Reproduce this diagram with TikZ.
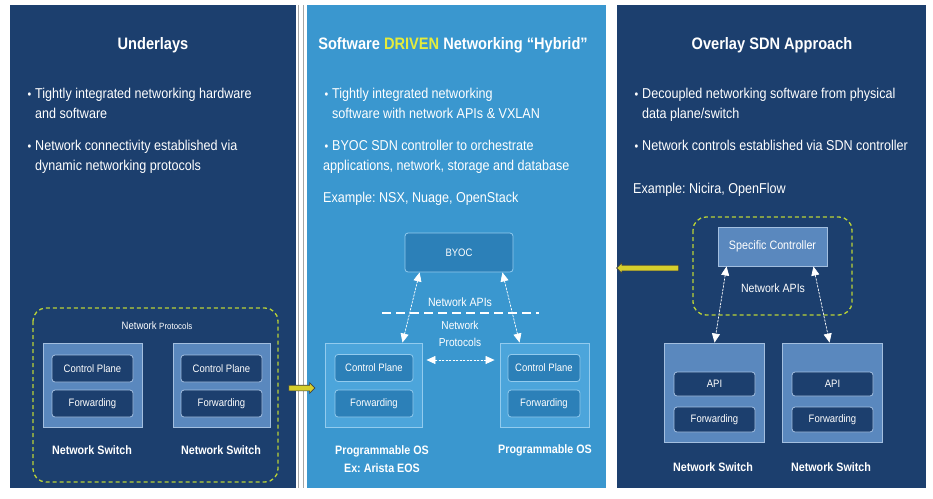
\documentclass[tikz,border=0pt]{standalone}
\usepackage{fontspec}
\setmainfont{Liberation Sans}[FakeStretch=0.88]
\usepackage{xcolor}
\usetikzlibrary{positioning, arrows.meta, shapes.arrows}
\frenchspacing

\definecolor{navy}{HTML}{1C3F6E}
\definecolor{sky}{HTML}{3A97CF}
\definecolor{lime}{HTML}{B9D237}
\definecolor{hostblue}{HTML}{5A88BE}
\definecolor{edgeblue}{HTML}{A3BFE0}
\definecolor{oshost}{HTML}{4CA5DB}
\definecolor{ospart}{HTML}{2C80B8}
\definecolor{osedge}{HTML}{92CBEE}
\definecolor{driven}{HTML}{E6EC3A}
\definecolor{arrowyellow}{HTML}{D6CF2C}

\newcommand{\itembul}{\llap{{\fontsize{12}{12}\selectfont\textbullet}\hspace{4pt}}}

\begin{document}
\begin{tikzpicture}[x=1pt, y=-1pt,
  title/.style={font=\fontsize{16.6}{19}\selectfont\bfseries, text=white},
  body/.style={font=\fontsize{14.3}{20}\selectfont, text=white, align=left, anchor=north west, inner sep=0pt},
  hostbox/.style={draw=edgeblue, fill=hostblue, line width=0.9pt, minimum width=#1, minimum height=84pt},
  partbox/.style={draw=edgeblue, fill=navy, rounded corners=3pt, line width=0.8pt, minimum width=#1, minimum height=27pt,
    font=\fontsize{10.8}{12}\selectfont, text=white},
  oshostbox/.style={hostbox=#1, draw=osedge, fill=oshost},
  ospartbox/.style={partbox=#1, draw=osedge, fill=ospart},
  swlabel/.style={font=\fontsize{12.2}{18}\selectfont\bfseries, text=white, align=center},
  note/.style={font=\fontsize{12}{17}\selectfont, text=white, align=center},
  group/.style={draw=lime, line width=1.3pt, dash pattern=on 4pt off 3pt, rounded corners=13pt},
  apilink/.style={{Triangle[width=8pt,length=9pt]}-{Triangle[width=8pt,length=9pt]}, draw=white, fill=white, line width=0.7pt, dash pattern=on 2pt off 1.5pt},
  movearrow/.style={single arrow, fill=arrowyellow, draw=black!75, line width=0.6pt, inner xsep=0pt, inner ysep=2.5pt,
    single arrow head extend=2.5pt, single arrow head indent=0pt}
]
\useasboundingbox (0,0) rectangle (933,498);
\fill[white] (0,0) rectangle (933,498);

% Panels
\fill[navy] (10,5) rectangle (296,488);
\draw[gray!70, line width=0.9pt] (298.5,5) -- (298.5,488);
\draw[gray!70, line width=0.9pt] (303.5,5) -- (303.5,488);
\fill[sky] (307,5) rectangle (606,488);
\fill[navy] (617,5) rectangle (926,488);

% Underlays
\node[title] (tUnder) at (153,45) {Underlays};
\node[body] (uA) at (35,88) {\itembul Tightly integrated networking hardware\\and software};
\node[body] (uB) at (35,140) {\itembul Network connectivity established via\\dynamic networking protocols};

\draw[group] (33,308) rectangle (278,482);
\node[note] (uProt) at (157,326) {\fontsize{10.8}{12}\selectfont Network {\fontsize{9}{10}\selectfont Protocols}};

\node[hostbox=99pt] (swA) at (92.5,385) {};
\node[partbox=81pt] (cpA) at (92.5,368.5) {Control Plane};
\node[partbox=81pt] (fwA) at (92.5,403.5) {Forwarding};
\node[swlabel] (lA) at (92,450) {Network Switch};

\node[hostbox=97pt] (swB) at (221.5,385) {};
\node[partbox=81pt] (cpB) at (221.5,368.5) {Control Plane};
\node[partbox=81pt] (fwB) at (221.5,403.5) {Forwarding};
\node[swlabel] (lB) at (221,450) {Network Switch};

\node[movearrow, minimum height=26pt] (goMid) at (300.5,388) {};

% Software driven
\node[title] (tSoft) at (453,45) {Software \textcolor{driven}{DRIVEN} Networking “Hybrid”};
\node[body] (sA) at (332,88) {\itembul Tightly integrated networking\\software with network APIs \& VXLAN};
\node[body] (sB) at (323,140) {\hspace*{9pt}\itembul BYOC SDN controller to orchestrate\\applications, network, storage and database};
\node[body] (sEx) at (323,192) {Example: NSX, Nuage, OpenStack};

\node[ospartbox=108pt, minimum height=39pt] (byoc) at (459,252.5) {BYOC};
\node[note] (sApi) at (460,302) {Network APIs};
\draw[white, line width=2pt, dash pattern=on 9pt off 5pt] (382,313) -- (539,313);
\node[note, font=\fontsize{11.5}{17}\selectfont] (sProt) at (460,334) {Network\\Protocols};

\node[oshostbox=97pt] (osL) at (373.5,385) {};
\node[ospartbox=78pt] (cpL) at (374,368) {Control Plane};
\node[ospartbox=78pt] (fwL) at (374,403.5) {Forwarding};
\node[swlabel] (lL) at (382,459) {Programmable OS\\Ex: Arista EOS};

\node[oshostbox=89pt] (osR) at (544.5,385) {};
\node[ospartbox=72pt] (cpR) at (544,368) {Control Plane};
\node[ospartbox=72pt] (fwR) at (544,403.5) {Forwarding};
\node[swlabel] (lR) at (545,450) {Programmable OS};

\draw[apilink] ([xshift=15pt]byoc.south west) -- ([xshift=-20pt]osL.north east);
\draw[apilink] ([xshift=-11pt]byoc.south east) -- ([xshift=20pt]osR.north west);
\draw[apilink] ([xshift=4pt,yshift=25pt]osL.east) -- ([xshift=-5pt,yshift=25pt]osR.west);

% Overlay SDN
\node[title] (tOver) at (772,45) {Overlay SDN Approach};
\node[body] (oA) at (642,88) {\itembul Decoupled networking software from physical\\data plane/switch};
\node[body] (oB) at (642,140) {\itembul Network controls established via SDN controller};
\node[body] (oEx) at (633,183) {Example: Nicira, OpenFlow};

\draw[group] (693,217) rectangle (852,315);
\node[hostbox=109pt, minimum height=39pt, font=\fontsize{12.2}{14}\selectfont, text=white] (ctrl) at (772.5,246.5) {Specific Controller};
\node[note] (oApi) at (773,288) {Network APIs};

\node[hostbox=100pt, minimum height=99pt] (swC) at (714,392.5) {};
\node[partbox=81pt, minimum height=24pt] (apiC) at (714.5,384) {API};
\node[partbox=81pt, minimum height=25pt] (fwC) at (714.5,419.5) {Forwarding};
\node[swlabel] (lC) at (713,467) {Network Switch};

\node[hostbox=100pt, minimum height=99pt] (swD) at (832,392.5) {};
\node[partbox=81pt, minimum height=24pt] (apiD) at (832.5,384) {API};
\node[partbox=81pt, minimum height=25pt] (fwD) at (832.5,419.5) {Forwarding};
\node[swlabel] (lD) at (831,467) {Network Switch};

\draw[apilink] ([xshift=9pt]ctrl.south west) -- ([xshift=51pt]swC.north west);
\draw[apilink] ([xshift=-14pt]ctrl.south east) -- ([xshift=48pt]swD.north west);

\node[movearrow, minimum height=62pt, shape border rotate=180] (goBack) at (649,268) {};
\end{tikzpicture}
\end{document}
